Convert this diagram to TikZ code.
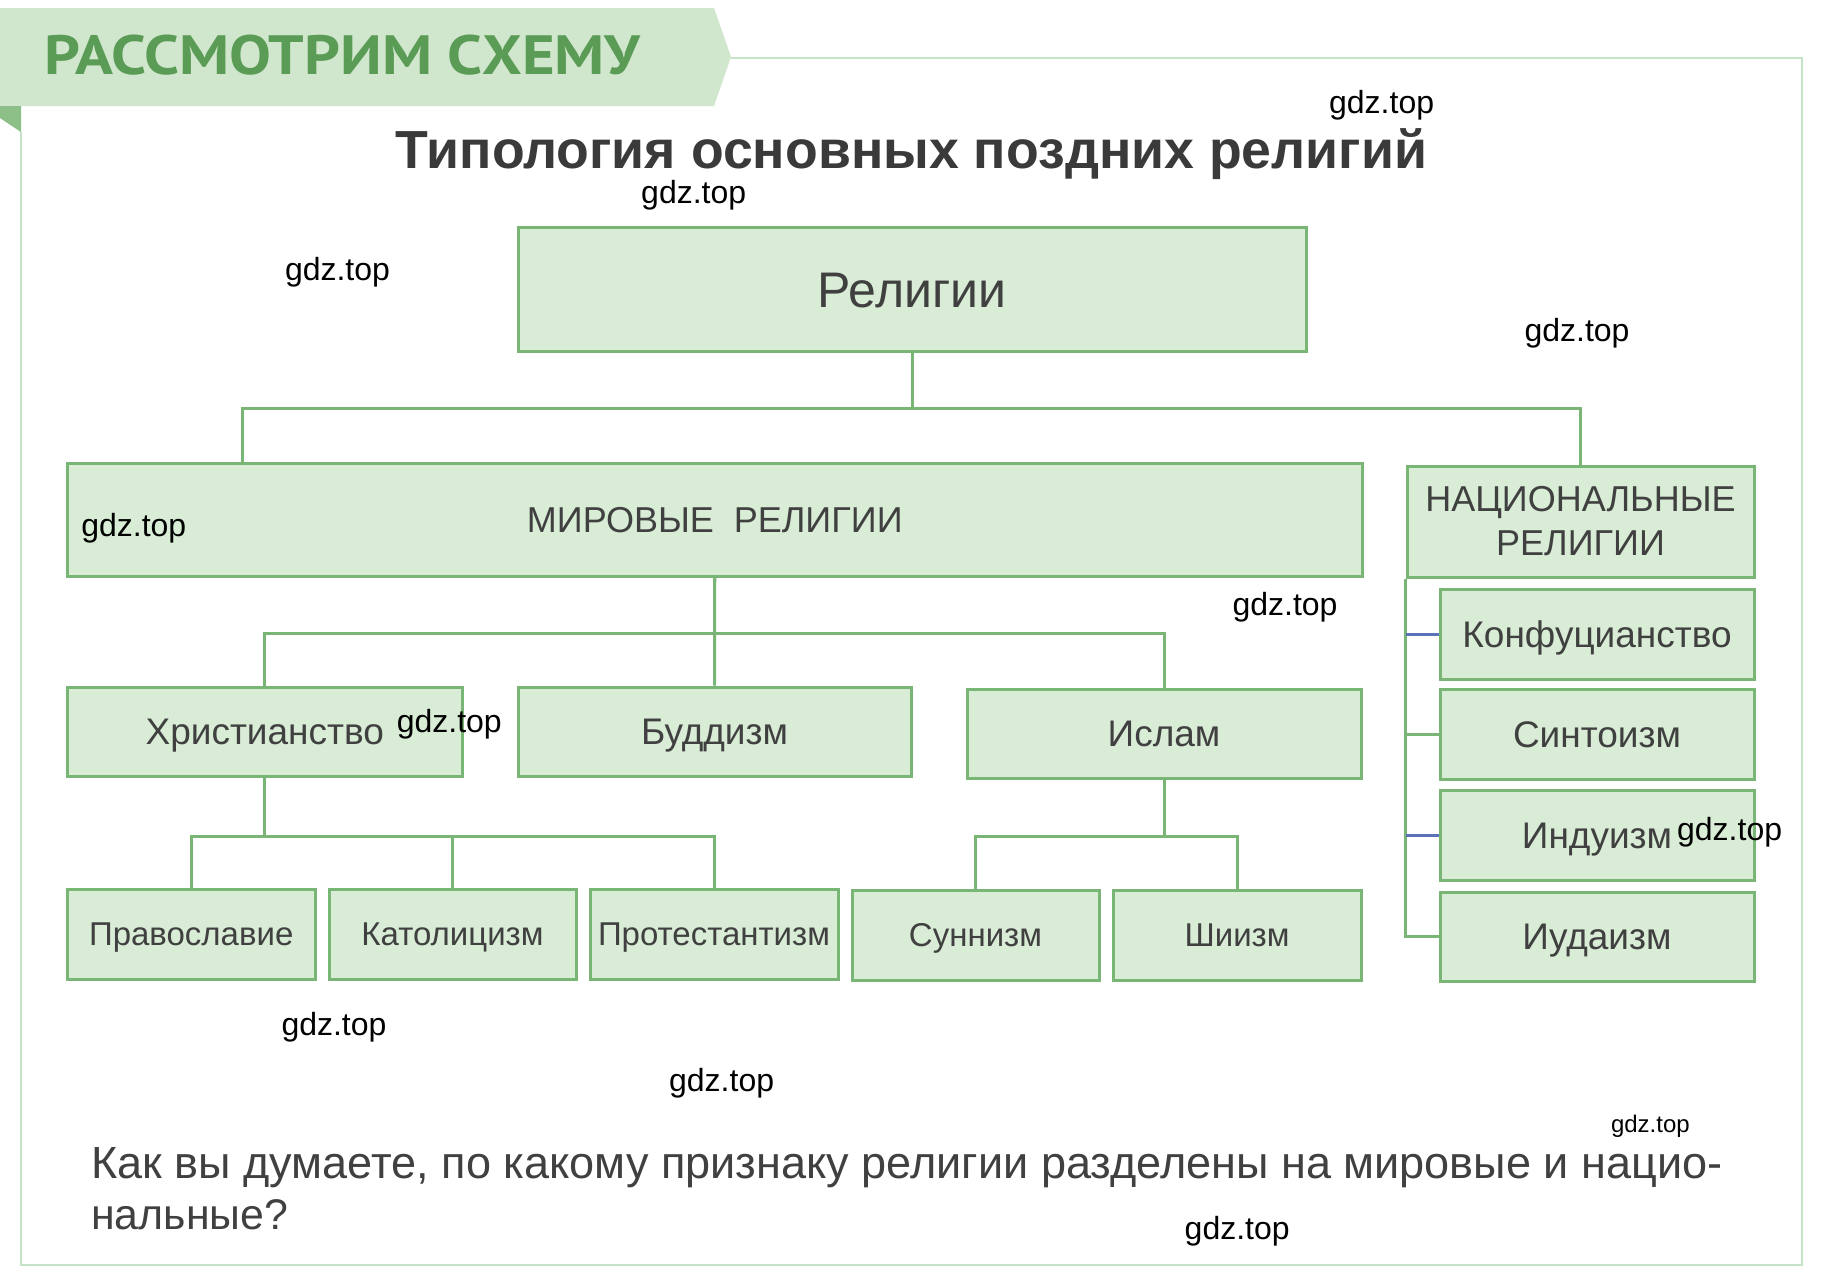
\documentclass[tikz,border=0pt]{standalone}
\usepackage{fontspec}
\usepackage{graphicx}
\setmainfont{Liberation Sans}
\newfontfamily\ptsans{PT Sans}
\definecolor{boxfill}{HTML}{D8ECD6}
\definecolor{boxline}{HTML}{79B676}
\definecolor{txt}{HTML}{404040}
\definecolor{bannerfill}{HTML}{D0E6CD}
\definecolor{bannertxt}{HTML}{5A9B55}
\definecolor{tabgreen}{HTML}{8DBF88}
\definecolor{framecol}{HTML}{C4E3C8}
\definecolor{stubcol}{HTML}{5A72B8}
\definecolor{titletxt}{HTML}{3A3A3A}
\begin{document}
\begin{tikzpicture}[x=1pt,y=-1pt,
  box/.style={draw=boxline, fill=boxfill, line width=3pt, inner sep=0pt, text=txt, align=center},
  big/.style={font=\fontsize{50}{56}\selectfont, text height=36pt, text depth=0pt},
  mid/.style={font=\fontsize{36}{44}\selectfont, text height=26pt, text depth=0pt},
  two/.style={font=\fontsize{36}{44}\selectfont},
  lab/.style={font=\fontsize{37}{42}\selectfont, text height=26.6pt, text depth=0pt},
  sml/.style={font=\fontsize{33}{38}\selectfont, text height=23.8pt, text depth=0pt},
  link/.style={draw=boxline, line width=3pt},
  stub/.style={draw=stubcol, line width=3pt},
  framel/.style={draw=framecol, line width=2.5pt},
  wm/.style={text=black, inner sep=0pt, font=\fontsize{32}{36}\selectfont},
  wms/.style={text=black, inner sep=0pt, font=\fontsize{24}{28}\selectfont}]
\useasboundingbox (0,0) rectangle (1825,1278);
\fill[white] (0,0) rectangle (1825,1278);

% banner and frame
\fill[bannerfill] (0,8) -- (714,8) -- (731,57) -- (714,106) -- (0,106) -- cycle;
\fill[tabgreen] (0,106) -- (21,106) -- (21,132) -- (0,118) -- cycle;
\draw[framel] (731,58) -- (1802,58) -- (1802,1265) -- (21,1265) -- (21,132);
\node[anchor=base west, inner sep=0pt, text=bannertxt] (ban) at (44,74.5)
  {\resizebox{596pt}{39.5pt}{\ptsans\bfseries РАССМОТРИМ СХЕМУ}};

% title
\node[anchor=base, inner sep=0pt, text=titletxt] (title) at (911.5,168)
  {\resizebox{1031pt}{!}{\bfseries Типология основных поздних религий}};

% boxes
\node[box, big, minimum width=788pt, minimum height=124pt] (rel) at (912,289) {Религии};
\node[box, mid, minimum width=1294.5pt, minimum height=113pt] (mir) at (714.75,519.5) {МИРОВЫЕ\ \ РЕЛИГИИ};
\node[box, two, minimum width=347pt, minimum height=111pt] (nac) at (1580.5,521.5) {НАЦИОНАЛЬНЫЕ\\РЕЛИГИИ};

\node[box, lab, minimum width=394.5pt, minimum height=89pt] (chr) at (264.75,731.5) {Христианство};
\node[box, lab, minimum width=393pt, minimum height=89pt] (bud) at (714.5,731.5) {Буддизм};
\node[box, lab, minimum width=394pt, minimum height=89pt] (isl) at (1164,733.5) {Ислам};

\node[box, sml, minimum width=247.5pt, minimum height=90pt] (prav) at (191.25,934) {Православие};
\node[box, sml, minimum width=247pt, minimum height=90pt] (kat) at (452.5,934) {Католицизм};
\node[box, sml, minimum width=248pt, minimum height=90pt] (prot) at (714,934) {Протестантизм};
\node[box, sml, minimum width=247pt, minimum height=90pt] (sun) at (975.5,935) {Суннизм};
\node[box, sml, minimum width=248pt, minimum height=90pt] (shi) at (1237,935) {Шиизм};

\node[box, lab, minimum width=314pt, minimum height=90pt] (konf) at (1597,634) {Конфуцианство};
\node[box, lab, minimum width=314pt, minimum height=90pt] (sint) at (1597,734) {Синтоизм};
\node[box, lab, minimum width=314pt, minimum height=90pt] (ind) at (1597,835) {Индуизм};
\node[box, lab, minimum width=314pt, minimum height=89pt] (iud) at (1597,936.5) {Иудаизм};

% connectors
\coordinate (mirdrop) at (242,463);
\draw[link] (rel.south) -- ++(0,56) -| (mirdrop);
\draw[link] (rel.south) -- ++(0,56) -| (nac.north);

\draw[link] (mir.south) -- ++(0,56) -| (chr.north);
\draw[link] (mir.south) -- (bud.north);
\draw[link] (mir.south) -- ++(0,56) -| (isl.north);

\draw[link] (chr.south) -- ++(0,58.5) -| (prav.north);
\draw[link] (chr.south) -- ++(0,58.5) -| (kat.north);
\draw[link] (chr.south) -- ++(0,58.5) -| (prot.north);

\draw[link] (isl.south) -- ++(0,56.5) -| (sun.north);
\draw[link] (isl.south) -- ++(0,56.5) -| (shi.north);

\draw[link] (nac.south west) |- (iud.west);
\draw[link] (nac.south west) |- (sint.west);
\draw[link] (nac.south west) |- (konf.west);
\draw[link] (nac.south west) |- (ind.west);
\draw[stub] (konf.west -| nac.west) -- (konf.west);
\draw[stub] (ind.west -| nac.west) -- (ind.west);

% question
\node[anchor=base west, inner sep=0pt, text=txt] (q1) at (91,1178)
  {\resizebox{1631pt}{!}{\fontsize{40}{48}\selectfont Как вы думаете, по какому признаку религии разделены на мировые и нацио-}};
\node[anchor=base west, inner sep=0pt, text=txt] (q2) at (91,1229)
  {\resizebox{197pt}{!}{\fontsize{40}{48}\selectfont нальные?}};

% watermarks
\node[wm] (w1) at (1381.6,104.8) {gdz.top};
\node[wm] (w2) at (693.7,195) {gdz.top};
\node[wm] (w3) at (337.5,272.4) {gdz.top};
\node[wm] (w4) at (1577,332.9) {gdz.top};
\node[wm] (w5) at (133.8,528.4) {gdz.top};
\node[wm] (w6) at (1285,607.6) {gdz.top};
\node[wm] (w7) at (449.3,724) {gdz.top};
\node[wm] (w8) at (1729.6,832.2) {gdz.top};
\node[wm] (w9) at (334,1027.7) {gdz.top};
\node[wm] (w10) at (721.6,1083.6) {gdz.top};
\node[wms] (w11) at (1650.4,1126.7) {gdz.top};
\node[wm] (w12) at (1237.2,1231.4) {gdz.top};
\end{tikzpicture}
\end{document}
